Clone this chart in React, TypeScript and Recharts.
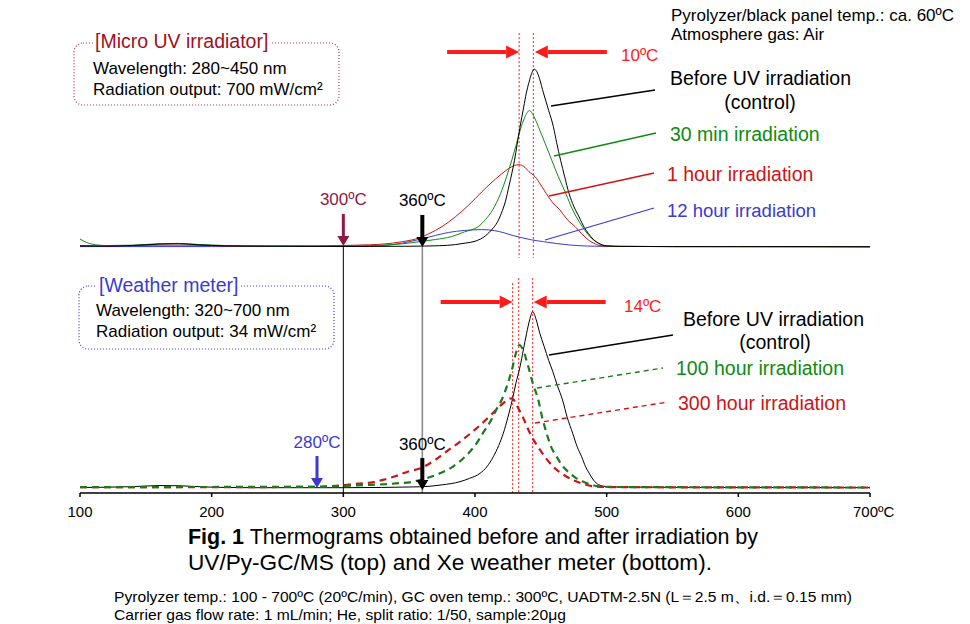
import React from 'react';
import { ComposedChart, Line, XAxis, YAxis, ReferenceLine, ReferenceDot } from 'recharts';

// Temperature (°C) / relative intensity pairs. Top panel: UV/Py-GC/MS.
const topControlT = [100, 120, 140, 160, 175, 190, 210, 240, 280, 320, 350, 373, 385, 393, 400, 408, 413, 417, 420, 423, 426, 430, 434, 437, 439, 441, 443, 445, 447, 449, 452, 456, 459.5, 462, 465, 468, 471.5, 475, 479, 483, 486, 490, 494, 500, 510, 550, 600, 650, 700];
const topControlV = [0.5, 0.4, 0.8, 1.6, 1.8, 1.2, 0.6, 0.4, 0.3, 0.3, 0.4, 0.7, 1.3, 2.2, 3.2, 6.3, 10, 14, 19, 25.5, 35, 49, 67, 79, 87, 93, 98, 100.4, 99, 95, 87, 77, 68, 59, 49, 40, 30, 23, 17, 11, 7.7, 4.2, 2, 0.6, 0.3, 0.2, 0.2, 0.2, 0.1];

const top30minT = [100, 103, 107, 112, 120, 140, 160, 175, 190, 210, 240, 280, 310, 330, 345, 358, 370, 382, 392, 402.5, 408, 413.4, 419.5, 424, 428, 431.6, 435.2, 438, 441.3, 444.8, 448.1, 453.2, 458.2, 463.3, 468.9, 474.2, 481.5, 487.3, 493.6, 500, 510, 550, 600, 700];
const top30minV = [4.5, 3.2, 2.0, 1.2, 0.8, 1.0, 1.8, 2.0, 1.4, 0.8, 0.5, 0.4, 0.6, 1.0, 1.8, 3.0, 4.2, 5.8, 8.5, 11.5, 15.5, 20.9, 30.3, 39.7, 49.2, 58.6, 68, 73.6, 77, 73.6, 68, 58.6, 49.2, 39.7, 30.3, 20.9, 11.5, 5.8, 2.2, 0.6, 0.3, 0.2, 0.2, 0.1];

const top1hT = [100, 120, 160, 180, 220, 280, 310, 330, 345, 358, 365, 375, 385, 395, 405, 412, 419, 425, 430, 433.5, 437, 441, 445.6, 450, 454, 459, 464.5, 470, 476, 481, 486, 490, 494.5, 500, 550, 700];
const top1hV = [0.8, 0.6, 1.0, 1.0, 0.5, 0.6, 1.0, 1.6, 3.0, 5.2, 7.5, 11.5, 17, 23.5, 31, 36, 40.5, 44, 46, 46.5, 45.5, 42.5, 39.7, 35, 30.3, 25, 20.9, 15.5, 11.5, 7.5, 4, 2.2, 0.8, 0.4, 0.2, 0.1];

const top12hT = [100, 200, 300, 328, 345, 358, 370, 380, 392, 405, 415, 422, 429, 435, 443, 452, 462, 472, 485, 500, 550, 700];
const top12hV = [0.2, 0.2, 0.3, 0.7, 2.2, 4.3, 6.5, 8.2, 9.3, 9.8, 9.2, 8, 6.4, 5.3, 4.0, 3.0, 1.9, 1.1, 0.5, 0.3, 0.2, 0.1];

// Bottom panel: Xe weather meter.
const botControlT = [100, 140, 160, 175, 195, 230, 300, 358, 375, 388.6, 396, 403.8, 409, 413.9, 418, 421.5, 425, 428.3, 431, 434.2, 436.7, 439.2, 441.5, 443.8, 446.5, 449, 452.5, 456, 459, 462.5, 466.5, 470, 474.2, 477.5, 481, 484, 486.8, 490, 493.7, 499, 505, 550, 700];
const botControlV = [0.3, 0.8, 1.4, 1.3, 0.6, 0.2, 0.2, 0.7, 1.8, 3.6, 5.5, 8.3, 12, 17.7, 24, 30.9, 40, 49.7, 59, 68.5, 78, 87.4, 95, 99.6, 95, 88, 80, 72, 66, 58, 49.7, 40, 30.9, 23.5, 17.7, 12, 8.3, 4.5, 2, 0.9, 0.6, 0.4, 0.2];

const bot100hT = [100, 200, 280, 301, 311, 321, 328, 340, 353, 363, 373.4, 383, 392.4, 400, 406, 412, 416, 420.2, 424, 428.6, 431, 433.7, 436.5, 440.5, 444, 448.1, 451, 454.4, 458, 462, 467, 472.2, 477, 482.3, 488, 494, 505, 700];
const bot100hV = [0.5, 0.6, 0.7, 1.2, 1.5, 1.8, 2.0, 2.6, 3.6, 5.5, 8.3, 12, 17.7, 24, 31, 38, 44, 49.7, 57, 68.5, 76, 80.8, 78, 68.5, 59, 49.7, 40, 30.9, 23, 17.7, 12, 8.3, 5.5, 3.6, 2, 1, 0.6, 0.3];

const bot300hT = [100, 200, 280, 301, 311, 320, 330, 340, 350, 358, 370, 380, 390, 400, 411, 420, 427.8, 431, 433, 436.2, 441.8, 449.4, 459.5, 469.6, 482.3, 492, 505, 700];
const bot300hV = [0.5, 0.5, 0.7, 1.7, 2.5, 3.0, 4.6, 6.8, 9.5, 11, 16, 21.5, 27, 33, 40.5, 47, 50.7, 48, 45, 40.3, 30.9, 21.5, 12, 6.4, 2.3, 0.8, 0.5, 0.3];

const X_TICKS = [100, 200, 300, 400, 500, 600, 700];

// peak-top markers
const topPeaks = [433.5, 444.3];
const botPeaks = [428.6, 433.2, 443.8];

const W = 970;
const H = 624;
const Y_MIN = -2.8;
const Y_MAX = 264.4;
const TOP_BASE = 136.2; // vertical offset of the upper thermograms

const SANS = "'Liberation Sans', Arial, Helvetica, sans-serif";

const RED = '#FF1A1A';
const GREEN = '#108A10';
const DARK_RED = '#CC1414';
const BLUE = '#3A3AD0';
const MAROON = '#8E1846';

const toSeries = (ts: number[], vs: number[], base = 0) => ts.map((t, i) => ({ t, v: vs[i] + base }));

const topControl = toSeries(topControlT, topControlV, TOP_BASE);
const top30min = toSeries(top30minT, top30minV, TOP_BASE);
const top1h = toSeries(top1hT, top1hV, TOP_BASE);
const top12h = toSeries(top12hT, top12hV, TOP_BASE);
const botControl = toSeries(botControlT, botControlV);
const bot100h = toSeries(bot100hT, bot100hV);
const bot300h = toSeries(bot300hT, bot300hV);

const TempTick = (props: any) => {
  const { x, y, payload } = props;
  const last = payload.value === X_TICKS[X_TICKS.length - 1];
  return (
    <text
      x={last ? x - 17 : x}
      y={y + 18}
      textAnchor={last ? 'start' : 'middle'}
      fontFamily={SANS}
      fontSize={15}
      fill="#000"
    >
      {payload.value}
      {last ? 'ºC' : ''}
    </text>
  );
};

// vertical arrow whose tip sits on the curve baseline, with its temperature label above
const DownArrow = ({ cx, cy, color, label, shaft = 3 }: any) => (
  <g>
    <rect x={cx - shaft / 2} y={cy - 32} width={shaft} height={24} fill={color} />
    <polygon points={`${cx - 6},${cy - 10} ${cx + 6},${cy - 10} ${cx},${cy}`} fill={color} />
    <text x={cx} y={cy - 46} textAnchor="middle" dominantBaseline="central" fontFamily={SANS} fontSize={17} fill={color}>
      {label}
    </text>
  </g>
);

// horizontal red arrow pointing at a peak marker
const SideArrow = ({ cx, cy, dir }: any) => {
  const len = 72;
  const tail = cx - dir * len;
  const base = cx - dir * 13;
  return (
    <g>
      <rect x={Math.min(tail, base)} y={cy - 2} width={Math.abs(base - tail)} height={4} fill={RED} />
      <polygon points={`${base},${cy - 6.5} ${base},${cy + 6.5} ${cx},${cy}`} fill={RED} />
    </g>
  );
};

const BoxTitle = ({ x, y, w, text, color }: any) => (
  <g>
    <rect x={x - 2} y={y - 10} width={w + 4} height={20} fill="#fff" />
    <text x={x} y={y} dominantBaseline="central" fontFamily={SANS} fontSize={19.5} fill={color}>
      {text}
    </text>
  </g>
);

const Label = ({ x, y, children, color = '#000', size = 19.5, anchor = 'start' }: any) => (
  <text x={x} y={y} dominantBaseline="central" textAnchor={anchor} fontFamily={SANS} fontSize={size} fill={color}>
    {children}
  </text>
);

export default function App() {
  return (
    <div style={{ position: 'absolute', left: 0, top: 0, width: W, height: H, background: '#fff' }}>
      <ComposedChart width={W} height={H} margin={{ top: 20, right: 100, bottom: 101, left: 80 }}>
        <XAxis
          type="number"
          dataKey="t"
          domain={[100, 700]}
          ticks={X_TICKS}
          interval={0}
          allowDataOverflow
          height={30}
          stroke="#000"
          strokeWidth={1.5}
          tickSize={4}
          tickLine={{ stroke: '#000', strokeWidth: 1.5 }}
          tick={<TempTick />}
        />
        <YAxis type="number" hide domain={[Y_MIN, Y_MAX]} allowDataOverflow />

        {/* onset guides */}
        <ReferenceLine segment={[{ x: 300, y: TOP_BASE }, { x: 300, y: Y_MIN }]} stroke="#000" strokeWidth={1} />
        <ReferenceLine segment={[{ x: 360, y: TOP_BASE }, { x: 360, y: Y_MIN }]} stroke="#8a8a8a" strokeWidth={1.6} />

        {/* peak-top markers */}
        {topPeaks.map((t) => (
          <ReferenceLine key={`tp${t}`} segment={[{ x: t, y: 257 }, { x: t, y: 130 }]} stroke={RED} strokeWidth={1} strokeDasharray="2 2" />
        ))}
        {botPeaks.map((t, i) => (
          <ReferenceLine key={`bp${t}`} segment={[{ x: t, y: i === 0 ? 115.8 : 118.6 }, { x: t, y: Y_MIN }]} stroke={RED} strokeWidth={1} strokeDasharray="2 2" />
        ))}

        {/* top panel */}
        <Line data={top12h} dataKey="v" type="monotone" stroke={BLUE} strokeWidth={1} dot={false} activeDot={false} isAnimationActive={false} />
        <Line data={top1h} dataKey="v" type="monotone" stroke={DARK_RED} strokeWidth={1} dot={false} activeDot={false} isAnimationActive={false} />
        <Line data={top30min} dataKey="v" type="monotone" stroke={GREEN} strokeWidth={1} dot={false} activeDot={false} isAnimationActive={false} />
        <Line data={topControl} dataKey="v" type="monotone" stroke="#000" strokeWidth={1} dot={false} activeDot={false} isAnimationActive={false} />

        {/* bottom panel */}
        <Line data={botControl} dataKey="v" type="monotone" stroke="#000" strokeWidth={1} dot={false} activeDot={false} isAnimationActive={false} />
        <Line data={bot300h} dataKey="v" type="monotone" stroke={DARK_RED} strokeWidth={2.2} strokeDasharray="7 5" dot={false} activeDot={false} isAnimationActive={false} />
        <Line data={bot100h} dataKey="v" type="monotone" stroke="#1B7A1B" strokeWidth={2.2} strokeDasharray="7 5" dot={false} activeDot={false} isAnimationActive={false} />

        {/* onset arrows */}
        <ReferenceDot x={300} y={TOP_BASE} shape={(p: any) => <DownArrow cx={p.cx} cy={p.cy - 1} color={MAROON} label="300ºC" />} />
        <ReferenceDot x={360} y={TOP_BASE} shape={(p: any) => <DownArrow cx={p.cx} cy={p.cy} color="#000" label="360ºC" shaft={4} />} />
        <ReferenceDot x={280} y={0} shape={(p: any) => <DownArrow cx={p.cx} cy={p.cy} color={BLUE} label="280ºC" />} />
        <ReferenceDot x={360} y={0} shape={(p: any) => <DownArrow cx={p.cx} cy={p.cy + 2} color="#000" label="360ºC" shaft={4} />} />

        {/* peak-shift arrows */}
        <ReferenceDot x={topPeaks[0]} y={246.3} shape={(p: any) => <SideArrow cx={p.cx} cy={p.cy} dir={1} />} />
        <ReferenceDot x={topPeaks[1]} y={246.3} shape={(p: any) => <SideArrow cx={p.cx + 1.5} cy={p.cy} dir={-1} />} />
        <ReferenceDot x={botPeaks[0]} y={105.1} shape={(p: any) => <SideArrow cx={p.cx} cy={p.cy} dir={1} />} />
        <ReferenceDot x={botPeaks[2]} y={105.1} shape={(p: any) => <SideArrow cx={p.cx + 1} cy={p.cy} dir={-1} />} />
      </ComposedChart>

      <svg width={W} height={H} style={{ position: 'absolute', left: 0, top: 0, pointerEvents: 'none' }}>
        {/* run conditions */}
        <Label x={671} y={15} size={17}>Pyrolyzer/black panel temp.: ca. 60ºC</Label>
        <Label x={671} y={34} size={17}>Atmosphere gas: Air</Label>

        {/* irradiator boxes */}
        <rect x={74} y={43} width={265} height={62} rx={9} fill="none" stroke="#B0305A" strokeWidth={1.2} strokeDasharray="1 2" />
        <BoxTitle x={95} y={41} w={174} text="[Micro UV irradiator]" color="#A0101E" />
        <Label x={93} y={68} size={17}>Wavelength: 280~450 nm</Label>
        <Label x={93} y={89} size={17}>Radiation output: 700 mW/cm²</Label>

        <rect x={79} y={286} width={255} height={63} rx={9} fill="none" stroke={BLUE} strokeWidth={1.2} strokeDasharray="1 2" />
        <BoxTitle x={99} y={285} w={139} text="[Weather meter]" color={BLUE} />
        <Label x={96} y={310} size={17}>Wavelength: 320~700 nm</Label>
        <Label x={96} y={331} size={17}>Radiation output: 34 mW/cm²</Label>

        {/* peak shifts */}
        <Label x={621} y={55} size={17} color={RED}>10ºC</Label>
        <Label x={624} y={306} size={17} color={RED}>14ºC</Label>

        {/* top series labels */}
        <line x1={551} y1={106} x2={655} y2={90} stroke="#000" strokeWidth={1.3} />
        <Label x={670} y={78}>Before UV irradiation</Label>
        <Label x={760} y={102} anchor="middle">(control)</Label>
        <line x1={554} y1={156} x2={656} y2={133} stroke={GREEN} strokeWidth={1.3} />
        <Label x={670} y={134} color={GREEN}>30 min irradiation</Label>
        <line x1={549} y1={196} x2={654} y2={173} stroke={DARK_RED} strokeWidth={1.3} />
        <Label x={667} y={174} color={DARK_RED}>1 hour irradiation</Label>
        <line x1={545} y1={240} x2={654} y2={208} stroke={BLUE} strokeWidth={1.3} />
        <Label x={667} y={210} size={18.5} color={BLUE}>12 hour irradiation</Label>

        {/* bottom series labels */}
        <line x1={549} y1={355} x2={673} y2={335} stroke="#000" strokeWidth={1.3} />
        <Label x={683} y={319}>Before UV irradiation</Label>
        <Label x={775} y={342} anchor="middle">(control)</Label>
        <line x1={537} y1={388} x2={663} y2={368} stroke="#1B7A1B" strokeWidth={1.4} strokeDasharray="5 4" />
        <Label x={676} y={368} color={GREEN}>100 hour irradiation</Label>
        <line x1={535} y1={423} x2={668} y2={402} stroke={DARK_RED} strokeWidth={1.4} strokeDasharray="5 4" />
        <Label x={678} y={403} color={DARK_RED}>300 hour irradiation</Label>

        {/* caption */}
        <text x={188} y={544} fontFamily={SANS} fontSize={22} textLength={570} lengthAdjust="spacingAndGlyphs" fill="#000">
          <tspan fontWeight="bold">Fig. 1</tspan> Thermograms obtained before and after irradiation by
        </text>
        <text x={188} y={570} fontFamily={SANS} fontSize={22} textLength={524} lengthAdjust="spacingAndGlyphs" fill="#000">
          UV/Py-GC/MS (top) and Xe weather meter (bottom).
        </text>
        <text x={114} y={602} fontFamily={SANS} fontSize={15} textLength={738} lengthAdjust="spacingAndGlyphs" fill="#000">
          Pyrolyzer temp.: 100 - 700ºC (20ºC/min), GC oven temp.: 300ºC, UADTM-2.5N (L＝2.5 m、i.d.＝0.15 mm)
        </text>
        <text x={114} y={620} fontFamily={SANS} fontSize={15} textLength={452} lengthAdjust="spacingAndGlyphs" fill="#000">
          Carrier gas flow rate: 1 mL/min; He, split ratio: 1/50, sample:20μg
        </text>
      </svg>
    </div>
  );
}
